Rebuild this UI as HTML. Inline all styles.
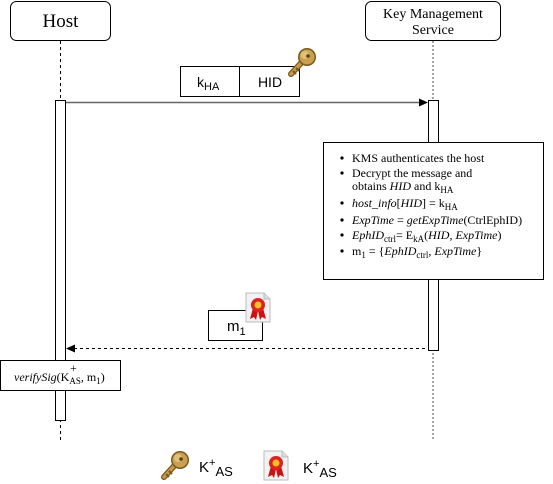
<!DOCTYPE html>
<html><head><meta charset="utf-8"><style>
html,body{margin:0;padding:0;background:#fff;}
svg{display:block;}
.s{font-family:"Liberation Serif",serif;}
.a{font-family:"Liberation Sans",sans-serif;}
</style></head><body>
<svg width="553" height="484" viewBox="0 0 553 484" xmlns="http://www.w3.org/2000/svg">
<defs>
<g id="key">
<line x1="15" y1="15" x2="4" y2="27" stroke="#7a5a1c" stroke-width="6" stroke-linecap="round"/>
<line x1="15" y1="15" x2="4" y2="27" stroke="#c89a48" stroke-width="3.5" stroke-linecap="round"/>
<path d="M6 24 l3 3 M9 21 l3 3" stroke="#7a5a1c" stroke-width="2"/>
<circle cx="20" cy="10" r="9" fill="#7a5a1c"/>
<circle cx="20" cy="10" r="7.5" fill="#c9a050"/>
<circle cx="18" cy="8" r="4" fill="#e0c078"/>
<circle cx="21" cy="9" r="1.8" fill="#5a3f10"/>
</g>
<g id="cert">
<path d="M1 1 H19 L25 7 V30 H1 Z" fill="#f2f2f2" stroke="#bbb"/>
<path d="M19 1 V7 H25" fill="#ddd" stroke="#bbb"/>
<path d="M8 16 L5 27 L9 25 L11 28 L13 19 Z M18 16 L21 27 L17 25 L15 28 L13 19 Z" fill="#d01010"/>
<circle cx="13" cy="13" r="7" fill="#e02020"/>
<circle cx="13" cy="13" r="3.5" fill="#f8c020"/>
</g>
</defs>
<rect x="10.5" y="1.5" width="100" height="39" rx="6" fill="#fff" stroke="#000"/>
<text x="60.5" y="27" class="s" font-size="19" text-anchor="middle">Host</text>
<rect x="365.5" y="1.5" width="135" height="39" rx="6" fill="#fff" stroke="#000"/>
<text x="433" y="18" class="s" font-size="14" text-anchor="middle">Key Management</text>
<text x="433" y="34" class="s" font-size="14" text-anchor="middle">Service</text>
<line x1="60.5" y1="41" x2="60.5" y2="440" stroke="#000" stroke-dasharray="3,3"/>
<line x1="433" y1="41" x2="433" y2="440" stroke="#888" stroke-width="1.5" stroke-dasharray="2,2"/>
<rect x="55.5" y="100.5" width="10" height="320" fill="#fff" stroke="#000"/>
<rect x="428.5" y="100.5" width="10" height="250" fill="#fff" stroke="#000"/>
<line x1="66" y1="102.5" x2="420" y2="102.5" stroke="#666" stroke-width="1.5"/>
<path d="M428 102.5 L419 98.5 L419 106.5 Z" fill="#000"/>
<rect x="180.5" y="66.5" width="59" height="30" fill="#fff" stroke="#000"/>
<rect x="239.5" y="66.5" width="60" height="30" fill="#fff" stroke="#000"/>
<text x="197" y="87" class="a" font-size="14">k<tspan font-size="11" dy="3">HA</tspan></text>
<text x="270" y="87" class="a" font-size="14" text-anchor="middle">HID</text>
<use href="#key" x="287" y="47"/>
<rect x="323.5" y="142.5" width="220" height="137" fill="#fff" stroke="#000"/>
<g fill="#000">
<circle cx="342" cy="158" r="1.6"/><circle cx="342" cy="173" r="1.6"/>
<circle cx="342" cy="203" r="1.6"/><circle cx="342" cy="220" r="1.6"/>
<circle cx="342" cy="235" r="1.6"/><circle cx="342" cy="251" r="1.6"/>
</g>
<g class="s" font-size="12">
<text x="352" y="162">KMS authenticates the host</text>
<text x="352" y="177">Decrypt the message and</text>
<text x="352" y="190">obtains <tspan font-style="italic">HID</tspan> and k<tspan font-size="9" dy="3">HA</tspan></text>
<text x="352" y="207"><tspan font-style="italic">host_info</tspan>[<tspan font-style="italic">HID</tspan>] = k<tspan font-size="9" dy="3">HA</tspan></text>
<text x="352" y="224"><tspan font-style="italic">ExpTime</tspan> = <tspan font-style="italic">getExpTime</tspan>(CtrlEphID)</text>
<text x="352" y="239"><tspan font-style="italic">EphID</tspan><tspan font-size="9" dy="3">ctrl</tspan><tspan dy="-3">= E</tspan><tspan font-size="9" dy="3">kA</tspan><tspan dy="-3">(<tspan font-style="italic">HID</tspan>, <tspan font-style="italic">ExpTime</tspan>)</tspan></text>
<text x="352" y="255">m<tspan font-size="9" dy="3">1</tspan><tspan dy="-3"> = {<tspan font-style="italic">EphID</tspan></tspan><tspan font-size="9" dy="3">ctrl</tspan><tspan dy="-3">, <tspan font-style="italic">ExpTime</tspan>}</tspan></text>
</g>
<rect x="208.5" y="310.5" width="54" height="30" fill="#fff" stroke="#000"/>
<text x="227" y="331" class="a" font-size="15">m<tspan font-size="11" dy="4">1</tspan></text>
<use href="#cert" x="245" y="292"/>
<line x1="74" y1="348.5" x2="428" y2="348.5" stroke="#000" stroke-dasharray="3,3"/>
<path d="M66 348.5 L75 344.5 L75 352.5 Z" fill="#000"/>
<rect x="0.5" y="360.5" width="120" height="30" fill="#fff" stroke="#000"/>
<text x="14" y="381" class="s" font-size="12"><tspan font-style="italic">verifySig</tspan>(K<tspan font-size="9" dy="3">AS</tspan><tspan dy="-3">, m</tspan><tspan font-size="9" dy="3">1</tspan><tspan dy="-3">)</tspan></text>
<text x="70" y="372" class="s" font-size="12">+</text>
<use href="#key" x="160" y="450"/>
<text x="199" y="472" class="a" font-size="15">K<tspan font-size="11" dy="-6">+</tspan><tspan font-size="13" dy="10">AS</tspan></text>
<use href="#cert" x="263" y="450"/>
<text x="303" y="473" class="a" font-size="15">K<tspan font-size="11" dy="-6">+</tspan><tspan font-size="13" dy="10">AS</tspan></text>
</svg>
</body></html>
